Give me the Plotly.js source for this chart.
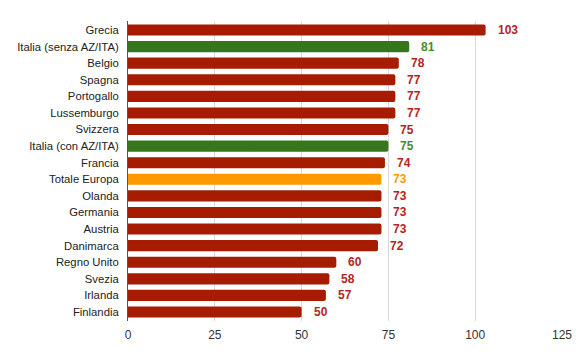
<!DOCTYPE html>
<html><head><meta charset="utf-8">
<script src="https://cdn.plot.ly/plotly-3.0.1.min.js"></script>
<style>html,body{margin:0;padding:0;background:#fff}#chart{width:580px;height:359px}</style>
</head><body><div id="chart"></div>
<script>
const categories = ["Grecia","Italia (senza AZ/ITA)","Belgio","Spagna","Portogallo","Lussemburgo","Svizzera","Italia (con AZ/ITA)","Francia","Totale Europa","Olanda","Germania","Austria","Danimarca","Regno Unito","Svezia","Irlanda","Finlandia"];
const values = [103,81,78,77,77,77,75,75,74,73,73,73,73,72,60,58,57,50];
const barColors = ["#a61c00","#38761d","#a61c00","#a61c00","#a61c00","#a61c00","#a61c00","#38761d","#a61c00","#ff9900","#a61c00","#a61c00","#a61c00","#a61c00","#a61c00","#a61c00","#a61c00","#a61c00"];
const labelColors = ["#b3261e","#4a8a2e","#b3261e","#b3261e","#b3261e","#b3261e","#b3261e","#4a8a2e","#b3261e","#ff9900","#b3261e","#b3261e","#b3261e","#b3261e","#b3261e","#b3261e","#b3261e","#b3261e"];
const tickVals = [0,25,50,75,100,125];

const trace = {
  type: "bar", orientation: "h",
  x: values, y: categories,
  marker: {color: barColors, cornerradius: 2},
  hoverinfo: "none"
};
const annotations = categories.map((c,i)=>({
  x: values[i], y: c, xref: "x", yref: "y",
  text: "<b>"+values[i]+"</b>", showarrow: false,
  xanchor: "left", xshift: 10,
  font: {family: "Liberation Sans, Arial, sans-serif", size: 12, color: labelColors[i]}
}));
const layout = {
  width: 580, height: 359,
  margin: {l: 128, r: 18, t: 21, b: 38},
  paper_bgcolor: "#fff", plot_bgcolor: "#fff",
  font: {family: "Liberation Sans, Arial, sans-serif", size: 12, color: "#222"},
  bargap: 0.33,
  showlegend: false,
  xaxis: {range: [0,125], tickvals: tickVals, ticktext: tickVals.map(String),
    showgrid: true, gridcolor: "#d9d9d9", gridwidth: 1, zeroline: false,
    showline: false, ticks: "", ticklabelstandoff: 5, tickfont: {size: 12, color: "#333"}},
  yaxis: {categoryorder: "array", categoryarray: categories, autorange: "reversed",
    showline: true, linecolor: "#555", linewidth: 1, ticks: "", ticklen: 0,
    ticklabelstandoff: 6, tickfont: {size: 11.3, color: "#222"}, showgrid: false},
  annotations: annotations
};
Plotly.newPlot("chart", [trace], layout, {staticPlot: true});
</script></body></html>
